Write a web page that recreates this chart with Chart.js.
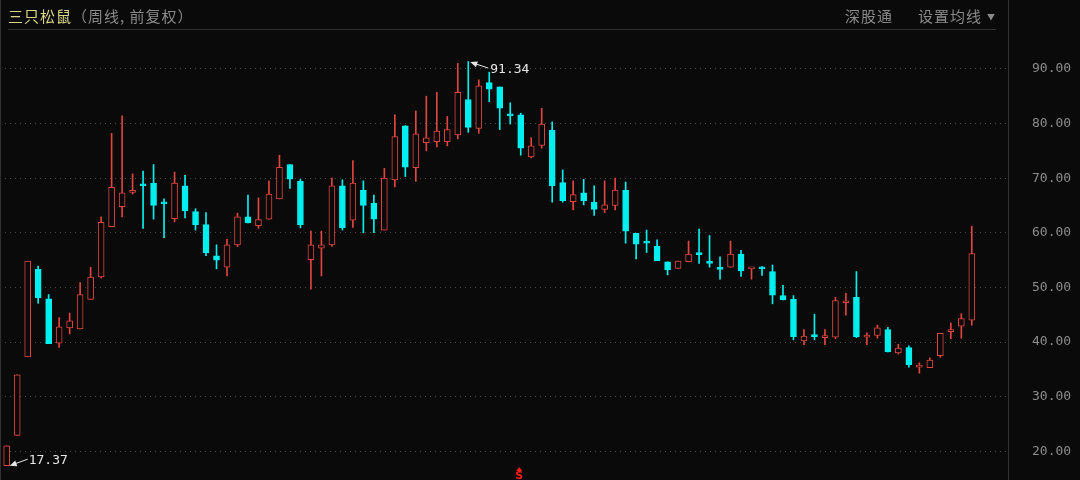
<!DOCTYPE html>
<html>
<head>
<meta charset="utf-8">
<title>三只松鼠 周线</title>
<script src="https://cdn.jsdelivr.net/npm/chart.js"></script>
<style>
  html, body { margin: 0; background: #0a0a0a; }
  #wrap { position: relative; width: 1080px; height: 480px; overflow: hidden; }
  #chart { position: absolute; left: 0; top: 0; }
  .hd {
    position: absolute; top: 6px;
    font-family: "Noto Sans CJK SC", sans-serif;
    font-size: 15px; line-height: 20px; letter-spacing: 1px;
    color: #8a8a8a; white-space: nowrap;
  }
</style>
</head>
<body>
<div id="wrap">
  <canvas id="chart" width="1080" height="480"></canvas>
  <div class="hd" style="left:8px"><span style="color:#d8d48a">三只松鼠</span>（周线, 前复权）</div>
  <div class="hd" style="left:845px">深股通</div>
  <div class="hd" style="left:918px">设置均线</div>
  <div class="hd" style="left:987px; font-size:8px; top:7px">▼</div>
</div>

<script>
// weekly candles (oldest first)
const opens  = [17.37, 22.9, 37.3, 53.3, 47.9, 39.8, 42.6, 42.4, 47.8, 51.9,
                61.1, 64.8, 67.4, 68.8, 69.1, 65.5, 62.6, 68.6, 63.9, 61.5,
                55.8, 53.7, 57.8, 62.9, 61.3, 62.5, 66.2, 72.5, 69.4, 55.1,
                57.2, 57.8, 68.6, 62.3, 67.8, 65.4, 60.5, 69.7, 79.6, 71.9,
                76.5, 76.7, 76.7, 77.9, 84.4, 79.1, 87.5, 86.7, 81.5, 81.6,
                73.9, 76.0, 78.8, 69.2, 65.7, 67.3, 65.6, 64.3, 65.0, 67.8,
                59.9, 58.3, 57.5, 54.7, 53.5, 54.7, 56.2, 54.5, 53.4, 53.7,
                56.1, 53.4, 53.5, 52.9, 48.5, 47.8, 40.2, 41.2, 40.8, 40.9,
                47.2, 48.2, 40.9, 41.2, 42.3, 38.0, 39.0, 35.4, 35.3, 37.5,
                41.9, 42.9, 44.0];
const closes = [21.0, 34.0, 54.8, 48.1, 39.7, 42.8, 43.9, 48.7, 51.9, 61.9,
                68.3, 67.3, 67.5, 68.6, 65.0, 65.3, 69.1, 64.0, 61.5, 56.3,
                55.0, 57.8, 62.9, 61.8, 62.4, 67.1, 72.0, 69.8, 61.5, 57.8,
                57.8, 68.6, 60.9, 69.1, 65.0, 62.5, 70.0, 77.6, 72.0, 78.1,
                77.4, 78.6, 78.9, 85.7, 79.3, 86.9, 86.3, 82.8, 81.4, 75.5,
                75.9, 79.9, 68.6, 65.9, 67.0, 65.9, 64.3, 65.1, 67.8, 60.3,
                57.9, 58.1, 54.9, 53.2, 54.8, 56.1, 56.0, 54.4, 53.3, 56.1,
                53.0, 53.5, 53.4, 48.6, 47.7, 41.0, 41.1, 41.0, 40.9, 47.6,
                47.3, 41.0, 41.0, 42.6, 38.2, 38.9, 35.8, 35.5, 36.7, 41.6,
                42.0, 44.3, 56.2];
const highs  = [21.0, 34.0, 54.8, 53.9, 48.7, 44.5, 45.3, 50.9, 53.7, 62.9,
                78.2, 81.4, 70.8, 71.3, 72.5, 66.2, 71.1, 70.5, 64.4, 63.7,
                57.8, 58.8, 63.6, 66.9, 66.4, 69.5, 74.2, 72.5, 69.8, 60.3,
                60.3, 70.0, 69.7, 73.2, 69.5, 66.9, 71.8, 81.6, 79.6, 82.3,
                85.0, 85.7, 81.3, 91.0, 91.34, 88.0, 89.4, 86.7, 83.8, 81.9,
                77.4, 82.8, 80.3, 71.5, 69.5, 69.8, 68.6, 69.5, 70.0, 69.3,
                59.9, 60.5, 58.7, 54.7, 54.8, 58.5, 60.7, 59.5, 55.6, 58.5,
                56.8, 53.5, 53.8, 54.1, 50.4, 48.5, 42.3, 45.1, 42.3, 48.2,
                48.9, 52.9, 41.7, 43.1, 42.7, 39.6, 39.3, 36.2, 37.1, 41.6,
                43.5, 45.2, 61.2];
const lows   = [17.37, 22.9, 37.3, 47.1, 39.7, 39.0, 41.5, 42.4, 47.8, 51.7,
                61.1, 62.9, 67.1, 60.8, 62.5, 59.1, 62.0, 62.7, 60.5, 55.8,
                53.4, 52.1, 57.5, 61.8, 60.8, 62.5, 66.2, 68.1, 60.9, 49.7,
                52.1, 57.5, 60.5, 61.0, 60.0, 60.0, 60.5, 68.4, 70.3, 69.4,
                75.0, 75.7, 75.9, 77.2, 78.4, 78.2, 84.0, 78.9, 79.9, 74.2,
                73.7, 75.5, 65.6, 65.6, 64.2, 65.1, 63.2, 63.7, 64.2, 58.1,
                55.2, 56.4, 54.9, 52.3, 53.5, 54.7, 54.4, 53.7, 51.5, 53.7,
                52.0, 51.5, 52.2, 47.0, 47.7, 40.4, 39.5, 40.4, 39.5, 40.6,
                44.9, 40.8, 39.5, 40.7, 38.2, 37.8, 35.4, 34.3, 35.3, 37.2,
                40.6, 40.7, 43.1];

// price axis labels
const yTicks = [20, 30, 40, 50, 60, 70, 80, 90];

// event markers under the candles (week index, label)
const eventWeeks = [49];
const eventLabels = ['S'];

const yMin = 14.75, yMax = 97.12;
const bg = '#0a0a0a';
const upColor = '#e0453f';
const downColor = '#00f0f0';

const weeks = opens.map((_, i) => i);
const isUp = weeks.map(i => closes[i] >= opens[i]);

function arrow(ctx, x1, y1, x2, y2) {
  const a = Math.atan2(y2 - y1, x2 - x1);
  ctx.beginPath();
  ctx.moveTo(x1, y1);
  ctx.lineTo(x2 - 5 * Math.cos(a), y2 - 5 * Math.sin(a));
  ctx.stroke();
  ctx.beginPath();
  ctx.moveTo(x2, y2);
  ctx.lineTo(x2 - 7 * Math.cos(a) + 3 * Math.sin(a), y2 - 7 * Math.sin(a) - 3 * Math.cos(a));
  ctx.lineTo(x2 - 7 * Math.cos(a) - 3 * Math.sin(a), y2 - 7 * Math.sin(a) + 3 * Math.cos(a));
  ctx.closePath();
  ctx.fill();
}

const frame = {
  id: 'frame',
  beforeDraw(chart) {
    const c = chart.ctx;
    c.save();
    c.fillStyle = bg;
    c.fillRect(0, 0, chart.width, chart.height);
    c.restore();
  },
  afterDraw(chart) {
    const c = chart.ctx;
    const ca = chart.chartArea;
    const xs = chart.scales.x, ys = chart.scales.y;
    c.save();
    // frame lines
    c.strokeStyle = '#303030';
    c.lineWidth = 1;
    c.beginPath();
    c.moveTo(ca.right + 0.5, 0); c.lineTo(ca.right + 0.5, chart.height);
    c.moveTo(0.5, 0); c.lineTo(0.5, chart.height);
    c.moveTo(8, 29.5); c.lineTo(996, 29.5);
    c.stroke();

    // max / min price tags
    c.strokeStyle = '#e6e6e6';
    c.fillStyle = '#e6e6e6';
    c.font = '13px "DejaVu Sans Mono"';
    c.textBaseline = 'middle';
    const iHi = highs.indexOf(Math.max(...highs));
    const iLo = lows.indexOf(Math.min(...lows));
    let px = xs.getPixelForValue(iHi), py = ys.getPixelForValue(highs[iHi]);
    arrow(c, px + 20, py + 6.5, px + 2, py + 0.5);
    c.fillText(highs[iHi].toFixed(2), px + 22, py + 8.5);
    px = xs.getPixelForValue(iLo); py = ys.getPixelForValue(lows[iLo]);
    arrow(c, px + 21, py - 6.5, px + 3, py);
    c.fillText(lows[iLo].toFixed(2), px + 22, py - 4.7);

    // event markers
    c.fillStyle = '#ff1a1a';
    c.font = 'bold 11px "DejaVu Sans"';
    c.textAlign = 'center';
    eventWeeks.forEach((w, k) => {
      const x = xs.getPixelForValue(w) - 1.5;
      c.beginPath();
      c.moveTo(x, 467); c.lineTo(x - 3, 471); c.lineTo(x + 3, 471);
      c.closePath();
      c.fill();
      c.fillText(eventLabels[k], x, 476);
    });
    c.restore();
  }
};

new Chart(document.getElementById('chart'), {
  type: 'bar',
  data: {
    datasets: [
      {
        label: 'body',
        order: 1,
        grouped: false,
        data: weeks.map(i => ({ x: i, y: [opens[i], closes[i]] })),
        backgroundColor: weeks.map(i => isUp[i] ? bg : downColor),
        borderColor: weeks.map(i => isUp[i] ? upColor : downColor),
        borderWidth: 1,
        borderSkipped: false,
        barThickness: 6,
        minBarLength: 2
      },
      {
        label: 'wick',
        order: 2,
        grouped: false,
        data: weeks.map(i => ({ x: i, y: [lows[i], highs[i]] })),
        backgroundColor: weeks.map(i => isUp[i] ? upColor : downColor),
        borderWidth: 0,
        barThickness: 1
      }
    ]
  },
  options: {
    responsive: false,
    animation: false,
    devicePixelRatio: 1,
    layout: { padding: { top: 30, left: 0, right: 0, bottom: 0 } },
    plugins: { legend: { display: false }, tooltip: { enabled: false } },
    scales: {
      x: { type: 'linear', min: -0.639, max: 95.45, offset: false, display: false, bounds: 'data' },
      y: {
        type: 'linear',
        position: 'right',
        bounds: 'data',
        beginAtZero: false,
        min: yMin,
        max: yMax,
        afterBuildTicks: s => {
          s.ticks = yTicks.map(v => ({ value: v }));
          s.min = yMin;
          s.max = yMax;
        },
        afterFit: s => { s.width = 72; s.paddingTop = 0; s.paddingBottom = 0; },
        grid: { color: '#474747', lineWidth: 1, drawTicks: false },
        border: { display: false, dash: [1, 4] },
        ticks: {
          color: '#8c8c8c',
          padding: 24,
          font: { family: 'DejaVu Sans Mono', size: 13 },
          callback: v => v.toFixed(2)
        }
      }
    }
  },
  plugins: [frame]
});
</script>
</body>
</html>
